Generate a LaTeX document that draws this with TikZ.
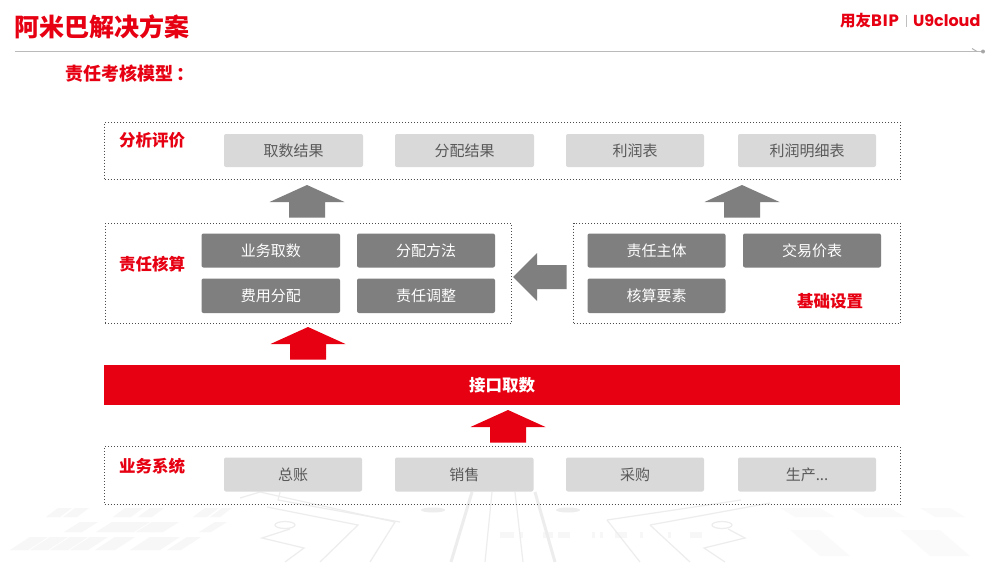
\documentclass[tikz,border=0pt]{standalone}
\usepackage{fontspec}
\setmainfont{Noto Sans CJK SC}
\newfontfamily\logofont{Poppins}
\newfontfamily\logowide[LetterSpace=6]{Poppins}
\definecolor{brandred}{HTML}{E60012}
\definecolor{midgrey}{HTML}{7F7F7F}
\definecolor{lightgrey}{HTML}{D9D9D9}
\definecolor{lighttext}{HTML}{595959}
\definecolor{bgline}{HTML}{EDEDED}
\definecolor{bgstripe}{HTML}{F7F7F7}
\tikzset{
  every node/.style={inner sep=0pt,outer sep=0pt},
  panel/.style={draw=black!70,line width=1pt,dash pattern=on 1pt off 2pt},
  lightbox/.style={fill=lightgrey,rounded corners=2pt,text=lighttext,font=\fontsize{15}{15}\selectfont},
  darkbox/.style={fill=midgrey,rounded corners=2pt,text=white,font=\fontsize{15}{15}\selectfont},
  redbar/.style={fill=brandred,text=white,font=\fontsize{16.5}{16.5}\selectfont\bfseries},
  paneltitle/.style={text=brandred,font=\fontsize{16.5}{16.5}\selectfont\bfseries},
  bgthin/.style={draw=bgline,line width=1.2pt},
  bgthick/.style={draw=bgline,line width=3pt},
  bgbar/.style={fill=bgstripe},
  greyarrow/.style={fill=midgrey},
  redarrow/.style={fill=brandred},
}
\newcommand{\rectnode}[7][]{%
  \node[#2,#1,minimum width={(#5-#3)*1pt},minimum height={(#6-#4)*1pt}] (#7) at ({(#3+#5)/2},{(#4+#6)/2})}
\newcommand{\uparrowshape}[3]{% style, centre x, tip y
  \fill[#1] (#2,#3) -- ({#2+37.5},{#3+17}) -- ({#2+18},{#3+17}) -- ({#2+18},{#3+32.5})
    -- ({#2-18},{#3+32.5}) -- ({#2-18},{#3+17}) -- ({#2-37.5},{#3+17}) -- cycle;}
\newcommand{\stripes}[4]{% y top, y bottom, slant, list of x/width
  \foreach \sx/\sw in {#4} {\fill[bgbar] (\sx,#1) -- ({\sx+\sw},#1) -- ({\sx+\sw-#3},#2) -- ({\sx-#3},#2) -- cycle;}}
\begin{document}
\begin{tikzpicture}[x=1pt,y=-1pt]
\useasboundingbox (0,0) rectangle (1000,562);
\fill[white] (0,0) rectangle (1000,562);
% background decoration
\begin{scope}
\clip (0,0) rectangle (1000,562);
\stripes{508}{517}{12}{58/14,75/14,125/18,150/14,205/14,222/10}
\stripes{522}{532}{16}{80/18,112/20,130/20,152/20,165/14,215/12}
\stripes{537}{550}{20}{30/18,50/18,70/18,90/18,115/20,150/18,165/15,187/14}
\begin{scope}[opacity=0.5]
\stripes{508}{517}{-15}{780/40,850/40,920/30}
\stripes{530}{556}{-30}{790/30,900/40}
\end{scope}
\foreach \dx/\dw in {500/14,520/3,543/10,558/12,592/3,600/3,615/12,640/3,668/3,690/12}
  \fill[bgbar] (\dx,532) rectangle ({\dx+\dw},538);
\draw[bgthin] (267,507) -- (358,525) -- (320,562);
\draw[bgthin] (240,498) -- (260,492) -- (395,522) -- (370,562);
\draw[bgthin] (280,492) -- (278,500) -- (400,522);
\draw[bgthin] (285,525) ellipse (10 and 3.5);
\draw[bgthin] (290,529) -- (262,538) -- (304,548) -- (285,562);
\draw[bgthin] (492,492) -- (485,562);
\draw[bgthick] (472,492) -- (451,562);
\draw[bgthin] (515,492) -- (523,562);
\draw[bgthick] (535,492) -- (555,562);
\draw[bgthin] (607,520) -- (741,500);
\draw[bgthin] (607,520) -- (640,562);
\draw[bgthin] (650,525) -- (770,503);
\draw[bgthin] (650,525) -- (690,562);
\draw[bgthin] (722,525) ellipse (10 and 3.5);
\draw[bgthin] (728,529) -- (745,538) -- (704,548) -- (725,562);
\fill[bgline] (433,510) ellipse (12 and 2.5);
\fill[bgline] (568,510) ellipse (12 and 2.5);
\end{scope}
% header
\node[anchor=west,text=brandred,font=\fontsize{25}{25}\selectfont\bfseries] (title) at (14,27) {阿米巴解决方案};
\node[anchor=west,text=brandred,font=\fontsize{18}{18}\selectfont\bfseries] (subtitle) at (65,74) {责任考核模型\hspace{4pt}：};
\draw[draw=black!27,line width=1.6pt] (15,51.5) -- (983,51.5);
\draw[draw=black!30,line width=1pt] (972,48.5) -- (977,51.5);
\fill[black!35] (983,51.5) circle (2);
\node[anchor=west,text=brandred,font=\fontsize{15.5}{15}\selectfont\bfseries] (logoa) at (840,20.5) {用友{\logowide\fontsize{16.5}{16}\selectfont BIP}};
\node[fill=black!25,minimum width=1.2pt,minimum height=12pt] (logobar) at (906.5,21) {};
\node[anchor=west,text=brandred,font=\logofont\fontsize{16}{16}\selectfont\bfseries] (logob) at (913,20.5) {U9cloud};
% top panel
\rectnode{panel}{104.5}{122}{900}{179.5}{top} {};
\node[paneltitle] (toplabel) at (152,140) {分析评价};
\rectnode{lightbox}{224}{134}{363}{167}{t1} {取数结果};
\rectnode{lightbox}{395}{134}{534}{167}{t2} {分配结果};
\rectnode{lightbox}{566}{134}{704}{167}{t3} {利润表};
\rectnode{lightbox}{738}{134}{876}{167}{t4} {利润明细表};
\uparrowshape{greyarrow}{307}{185}
\uparrowshape{greyarrow}{742}{185}
% left middle panel
\rectnode{panel}{105}{223}{511}{323.5}{mid} {};
\node[paneltitle] (midlabel) at (152,264) {责任核算};
\rectnode{darkbox}{201.5}{233.5}{340}{267.5}{m1} {业务取数};
\rectnode{darkbox}{357}{233.5}{495}{267.5}{m2} {分配方法};
\rectnode{darkbox}{201.5}{278.5}{340}{313}{m3} {费用分配};
\rectnode{darkbox}{357}{278.5}{495}{313}{m4} {责任调整};
% right middle panel
\rectnode{panel}{573.5}{223}{900}{323.5}{base} {};
\rectnode{darkbox}{587.5}{233.5}{725.5}{267.5}{b1} {责任主体};
\rectnode{darkbox}{743}{233.5}{881}{267.5}{b2} {交易价表};
\rectnode{darkbox}{587.5}{278.5}{725.5}{313}{b3} {核算要素};
\node[paneltitle] (baselabel) at (830,301) {基础设置};
\fill[greyarrow] (513,277) -- (537,253) -- (537,265) -- (566.5,265) -- (566.5,289) -- (537,289) -- (537,301) -- cycle;
% interface
\uparrowshape{redarrow}{308}{327}
\rectnode{redbar}{104}{365}{900}{405}{bar} {接口取数};
\uparrowshape{redarrow}{508}{410}
% bottom panel
\rectnode{panel}{104.5}{446.5}{900}{504}{bottom} {};
\node[paneltitle] (bottomlabel) at (152,466) {业务系统};
\rectnode{lightbox}{224}{457.5}{362}{491.5}{s1} {总账};
\rectnode{lightbox}{395}{457.5}{533.5}{491.5}{s2} {销售};
\rectnode{lightbox}{566}{457.5}{704}{491.5}{s3} {采购};
\rectnode{lightbox}{738}{457.5}{876}{491.5}{s4} {生产...};
\end{tikzpicture}
\end{document}
